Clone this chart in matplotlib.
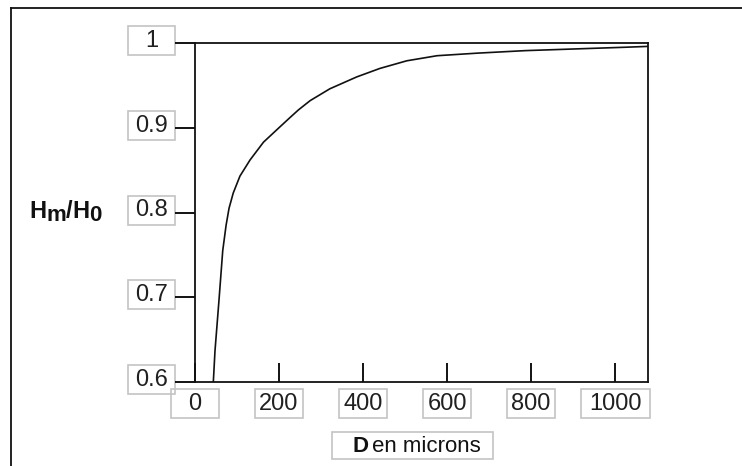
import matplotlib
matplotlib.use("Agg")
import matplotlib.pyplot as plt
from matplotlib.patches import Rectangle
from matplotlib.lines import Line2D

# courbe Hm/H0 en fonction de D
diam = [43.6, 47.6, 57, 66, 74, 81, 91, 107, 131, 163, 202, 226, 246, 274, 321, 385, 440,
        504, 576, 671, 786, 905, 1024, 1078]
ratio = [0.600, 0.637, 0.696, 0.755, 0.785, 0.805, 0.823, 0.843, 0.862, 0.883, 0.901, 0.912,
         0.921, 0.932, 0.946, 0.960, 0.970, 0.979, 0.985, 0.988, 0.991, 0.993, 0.995, 0.996]

xticks = [0, 200, 400, 600, 800, 1000]
yticks = [0.6, 0.7, 0.8, 0.9, 1.0]
ytick_labels = ["0.6", "0.7", "0.8", "0.9", "1"]

plt.rcParams['font.family'] = ['Liberation Sans', 'DejaVu Sans']

W, H = 742, 466
fig = plt.figure(figsize=(W / 100, H / 100), dpi=100)
ax = fig.add_axes([195 / W, 1 - 382 / H, 453 / W, 339 / H])

ax.plot(diam, ratio, color='#111111', lw=1.2)
ax.set_xlim(0, 1078)
ax.set_ylim(0.6, 1.0)

for s in ax.spines.values():
    s.set_linewidth(1.3)
    s.set_color('#111111')

ax.set_xticks(xticks)
ax.set_yticks(yticks)
ax.tick_params(axis='x', direction='in', length=13.5, width=1.3, labelbottom=False)
ax.tick_params(axis='y', direction='out', length=14.4, width=1.3, labelleft=False)

box_edge = '#c4c4c4'
txt_col = '#202020'

# etiquettes de l'axe y dans des cadres
ppx = 1 / 453
ppy_data = 0.4 / 339
for v, lab in zip(yticks, ytick_labels):
    ax.add_patch(Rectangle((-67 * ppx, v - 12 * ppy_data), 47 * ppx, 29 * ppy_data,
                           transform=ax.get_yaxis_transform(), fill=False,
                           edgecolor=box_edge, lw=1.2, clip_on=False))
    ax.text(-43.5 * ppx, v + 2 * ppy_data, lab, transform=ax.get_yaxis_transform(),
            ha='center', va='center', fontsize=17, color=txt_col)

# etiquettes de l'axe x dans des cadres
ppx_data = 1078 / 453
ppy = 1 / 339
for v in xticks:
    w = 69 if v == 1000 else 48
    ax.add_patch(Rectangle((v - w / 2 * ppx_data, -36 * ppy), w * ppx_data, 29 * ppy,
                           transform=ax.get_xaxis_transform(), fill=False,
                           edgecolor=box_edge, lw=1.2, clip_on=False))
    ax.text(v, -21.5 * ppy, str(v), transform=ax.get_xaxis_transform(),
            ha='center', va='center', fontsize=17, color=txt_col)

renderer = fig.canvas.get_renderer()


def chain(x0, y0, parts):
    # place des morceaux de texte les uns apres les autres (coordonnees pixels)
    x = x0
    for s, size, weight, dy, gap in parts:
        t = fig.text(x / W, 1 - (y0 + dy) / H, s, fontsize=size, fontweight=weight,
                     color='#111111', ha='left', va='baseline')
        bb = t.get_window_extent(renderer)
        x += bb.width + gap


# titre de l'axe x
fig.add_artist(Rectangle((332 / W, 1 - 459 / H), 161 / W, 27 / H,
                         transform=fig.transFigure, fill=False, edgecolor=box_edge, lw=1.2))
chain(352, 452, [("D", 16, 'bold', 0, 4), ("en microns", 16, 'normal', 0, 0)])

# titre de l'axe y
chain(29, 218, [("H", 17, 'bold', 0, 0), ("m", 16, 'bold', 3, 0), ("/", 17, 'bold', 0, 0),
                ("H", 17, 'bold', 0, 0), ("0", 16, 'bold', 3, 0)])

# cadre exterieur (gauche et haut)
fig.add_artist(Line2D([11 / W, 11 / W], [0, 1 - 8 / H], transform=fig.transFigure,
                      color='#111111', lw=1.3))
fig.add_artist(Line2D([11 / W, 1], [1 - 8 / H, 1 - 8 / H], transform=fig.transFigure,
                      color='#111111', lw=1.3))

fig.savefig('out.png', dpi=100)
